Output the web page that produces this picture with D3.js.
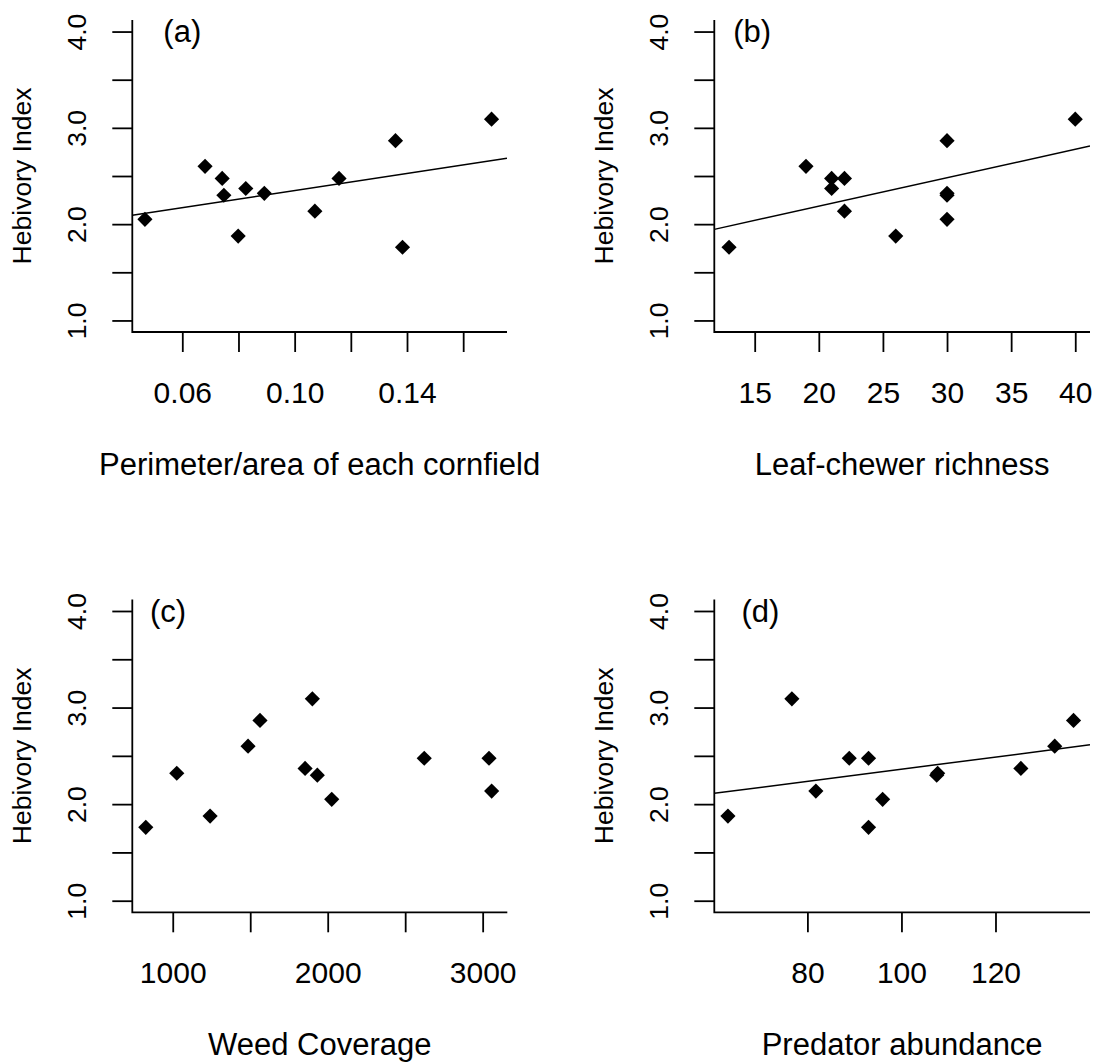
<!DOCTYPE html>
<html>
<head>
<meta charset="utf-8">
<script src="https://cdn.jsdelivr.net/npm/d3@7"></script>
<style>
    body { margin: 0; background: #fff; }
    svg text { font-family: "Liberation Sans", Arial, sans-serif; fill: #000; }
</style>
</head>
<body>
<div id="chart"></div>
<script>
// Herbivory index for the 12 cornfields (same order in every x array)
const herbivory = [2.05, 2.60, 2.475, 2.30, 2.37, 1.876, 2.32, 2.135, 2.475, 2.867, 1.76, 3.09];

// Explanatory variables, one value per field
const perimeterArea = [0.0467, 0.0681, 0.0742, 0.0748, 0.0826, 0.0799, 0.0892, 0.1072, 0.1158, 0.1359, 0.1384, 0.1701];
const leafChewer = [30, 19, 21, 30, 21, 26, 30, 22, 22, 30, 13, 40];
const weedCover = [2026, 1486, 2623, 1933, 1854, 1241, 1026, 3058, 3041, 1563, 826, 1901];
const predators = [96.0, 132.6, 88.9, 107.5, 125.4, 63.1, 107.7, 81.8, 93.0, 136.6, 93.0, 76.7];

// Fitted lines [intercept, slope]; panel (c) has none
const fitA = [1.904, 4.44];
const fitB = [1.596, 0.02952];
const fitD = [1.734, 0.00628];

// Axis ticks and labels
const yTicks = [1, 1.5, 2, 2.5, 3, 3.5, 4];
const yLabels = ['1.0', '', '2.0', '', '3.0', '', '4.0'];
const ticksA = [0.06, 0.08, 0.10, 0.12, 0.14, 0.16];
const labelsA = ['0.06', '', '0.10', '', '0.14', ''];
const ticksB = [15, 20, 25, 30, 35, 40];
const labelsB = ['15', '20', '25', '30', '35', '40'];
const ticksC = [1000, 1500, 2000, 2500, 3000];
const labelsC = ['1000', '', '2000', '', '3000'];
const ticksD = [80, 100, 120];
const labelsD = ['80', '100', '120'];

const panels = [
    { tag: '(a)', tagX: 0.06, x: perimeterArea, fit: fitA, xDomain: [0.0422, 0.1756], ticks: ticksA, labels: labelsA,
      title: 'Perimeter/area of each cornfield', box: [132.3, 507, 20, 332] },
    { tag: '(b)', tagX: 14.8, x: leafChewer, fit: fitB, xDomain: [11.85, 41.15], ticks: ticksB, labels: labelsB,
      title: 'Leaf-chewer richness', box: [714.3, 1090, 20, 332] },
    { tag: '(c)', tagX: 970, x: weedCover, fit: null, xDomain: [739, 3159], ticks: ticksC, labels: labelsC,
      title: 'Weed Coverage', box: [132.3, 507.3, 599.4, 912.3] },
    { tag: '(d)', tagX: 70, x: predators, fit: fitD, xDomain: [60.2, 140.1], ticks: ticksD, labels: labelsD,
      title: 'Predator abundance', box: [714.3, 1090, 599.4, 912.3] }
];

const svg = d3.select('#chart').append('svg')
    .attr('width', 1094)
    .attr('height', 1063);

svg.append('rect').attr('width', 1094).attr('height', 1063).attr('fill', '#fff');

panels.forEach((p, idx) => {
    const [x0, x1, y0, y1] = p.box;
    const xScale = d3.scaleLinear().domain(p.xDomain).range([x0, x1]);
    const yScale = d3.scaleLinear().domain([0.88, 4.12]).range([y1, y0]);
    const g = svg.append('g');

    // clip for the fitted line
    g.append('clipPath').attr('id', 'clip' + idx)
        .append('rect')
        .attr('x', x0).attr('y', y0)
        .attr('width', x1 - x0).attr('height', y1 - y0);

    // X axis
    const xAxis = g.append('g')
        .attr('transform', `translate(0, ${y1})`)
        .call(d3.axisBottom(xScale).tickValues(p.ticks).tickSize(20)
            .tickFormat((d, i) => p.labels[i]));
    xAxis.select('.domain').remove();
    xAxis.selectAll('line').attr('stroke', '#000').attr('stroke-width', 1.8);
    xAxis.selectAll('text')
        .attr('y', 71).attr('dy', 0)
        .style('font-size', '30px');

    // Y axis, labels parallel to the axis
    const yAxis = g.append('g')
        .attr('transform', `translate(${x0}, 0)`)
        .call(d3.axisLeft(yScale).tickValues(yTicks).tickSize(20)
            .tickFormat((d, i) => yLabels[i]));
    yAxis.select('.domain').remove();
    yAxis.selectAll('line').attr('stroke', '#000').attr('stroke-width', 1.8);
    yAxis.selectAll('text')
        .attr('x', 0).attr('dy', 0)
        .attr('transform', 'translate(-46, 0) rotate(-90)')
        .attr('text-anchor', 'middle')
        .style('font-size', '26.5px');

    // L-shaped box
    g.append('path')
        .attr('d', `M${x0},${y0}V${y1}H${x1}`)
        .attr('fill', 'none')
        .attr('stroke', '#000')
        .attr('stroke-width', 1.8);

    // Fitted line
    if (p.fit) {
        const [b0, b1] = p.fit;
        g.append('line')
            .attr('clip-path', `url(#clip${idx})`)
            .attr('x1', xScale(p.xDomain[0])).attr('y1', yScale(b0 + b1 * p.xDomain[0]))
            .attr('x2', xScale(p.xDomain[1])).attr('y2', yScale(b0 + b1 * p.xDomain[1]))
            .attr('stroke', '#000')
            .attr('stroke-width', 1.5);
    }

    // Points (filled diamonds)
    g.selectAll('.pt')
        .data(p.x.map((v, i) => ({ x: v, y: herbivory[i] })))
        .enter()
        .append('path')
        .attr('class', 'pt')
        .attr('d', d3.symbol().type(d3.symbolSquare).size(115))
        .attr('transform', d => `translate(${xScale(d.x)}, ${yScale(d.y)}) rotate(45)`)
        .attr('fill', '#000');

    // Panel tag
    g.append('text')
        .attr('x', xScale(p.tagX))
        .attr('y', yScale(4))
        .attr('dy', '0.35em')
        .attr('text-anchor', 'middle')
        .style('font-size', '31px')
        .text(p.tag);

    // Axis titles
    g.append('text')
        .attr('x', (x0 + x1) / 2)
        .attr('y', y1 + 143)
        .attr('text-anchor', 'middle')
        .style('font-size', '31px')
        .text(p.title);

    g.append('text')
        .attr('transform', `translate(${x0 - 101}, ${(y0 + y1) / 2}) rotate(-90)`)
        .attr('text-anchor', 'middle')
        .style('font-size', '26.5px')
        .text('Hebivory Index');
});
</script>
</body>
</html>
